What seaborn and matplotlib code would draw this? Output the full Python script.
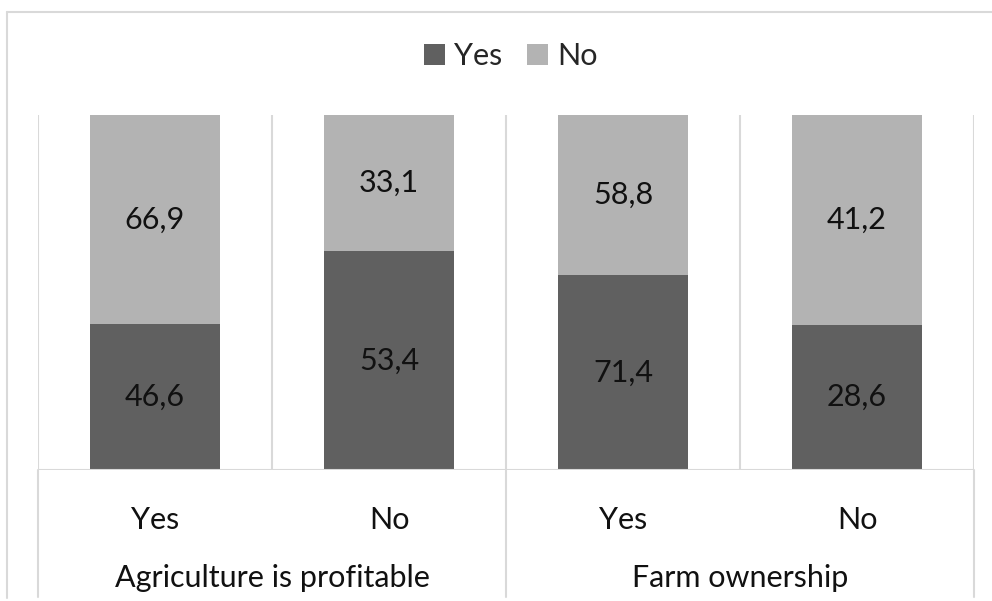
import matplotlib
matplotlib.use("Agg")
import matplotlib.pyplot as plt
import seaborn as sns
import pandas as pd
import numpy as np
from matplotlib.patches import Patch
from matplotlib.lines import Line2D
import matplotlib.transforms as mtransforms

# ---- data ----
groups = ["Agriculture is profitable", "Agriculture is profitable", "Farm ownership", "Farm ownership"]
group_names = ["Agriculture is profitable", "Farm ownership"]
categories = ["Yes", "No", "Yes", "No"]
yes_values = [46.6, 53.4, 71.4, 28.6]
no_values = [66.9, 33.1, 58.8, 41.2]
series_names = ["Yes", "No"]

dark = "#606060"
light = "#b3b3b3"
grid_c = "#d9d9d9"
txt_c = "#111111"
FS = 22

sns.set_theme(style="white")
plt.rcParams["font.family"] = ["Lato", "DejaVu Sans"]

ids = [f"{g}|{c}" for g, c in zip(groups, categories)]
tot = np.array(yes_values) + np.array(no_values)
df = pd.DataFrame({
    "id": ids,
    "total": tot / tot * 100.0,
    "yes_share": np.array(yes_values) / tot * 100.0,
    "no_share": np.array(no_values) / tot * 100.0,
})

fig = plt.figure(figsize=(9.92, 6.01), dpi=100)
W, H = 992, 601
ax = fig.add_axes([38 / W, 1 - 470 / H, (974 - 38) / W, (470 - 115) / H])

sns.barplot(data=df, x="id", y="total", color=light, width=0.556, ax=ax,
            saturation=1, order=ids, linewidth=0, edgecolor="none")
sns.barplot(data=df, x="id", y="yes_share", color=dark, width=0.556, ax=ax,
            saturation=1, order=ids, linewidth=0, edgecolor="none")

ax.set_xlim(-0.5, len(ids) - 0.5)
ax.set_ylim(0, 100)
ax.set_xlabel("")
ax.set_ylabel("")
ax.set_yticks([])
for s in ax.spines.values():
    s.set_visible(False)

# grid / category separators
for xv in np.arange(-0.5, len(ids), 1.0):
    ax.axvline(xv, ymin=0, ymax=1, color=grid_c, lw=1.5, zorder=0)
ax.axhline(0, color=grid_c, lw=1.5, zorder=3)

trans = mtransforms.blended_transform_factory(ax.transData, ax.transAxes)
# group separators below the axis
for xv in [-0.5, 1.5, 3.5]:
    ax.add_line(Line2D([xv, xv], [0, -(597 - 470) / 355], transform=trans,
                       color=grid_c, lw=1.5, clip_on=False))

# category tick labels
ax.set_xticks(range(len(ids)))
ax.set_xticklabels(categories, fontsize=FS, color=txt_c)
ax.tick_params(axis="x", length=0, pad=26)

# group labels
for gi, gname in enumerate(group_names):
    ax.text(gi * 2 + 0.5, -(578 - 470) / 355, gname, transform=trans,
            ha="center", va="center", fontsize=FS, color=txt_c)

# data labels
for i in range(len(ids)):
    ys = df["yes_share"].iloc[i]
    ns = df["no_share"].iloc[i]
    ax.text(i, ys / 2, f"{yes_values[i]:.1f}".replace(".", ","), ha="center",
            va="center", fontsize=FS, color=txt_c)
    ax.text(i, ys + ns / 2, f"{no_values[i]:.1f}".replace(".", ","), ha="center",
            va="center", fontsize=FS, color=txt_c)

# legend
handles = [Patch(facecolor=dark, edgecolor="none"), Patch(facecolor=light, edgecolor="none")]
fig.legend(handles, series_names, loc="center", bbox_to_anchor=(511 / W, 1 - 56 / H),
           ncol=2, frameon=False, fontsize=FS, handlelength=0.7, handleheight=0.7,
           handletextpad=0.3, columnspacing=0.8)

# outer chart border
fig.add_artist(Line2D([7 / W, 7 / W], [1 - 12 / H, 1 - 598 / H], transform=fig.transFigure,
                      color=grid_c, lw=1.5))
fig.add_artist(Line2D([7 / W, 1.0], [1 - 12 / H, 1 - 12 / H], transform=fig.transFigure,
                      color=grid_c, lw=1.5))

fig.savefig("out.png", dpi=100, facecolor="white")
